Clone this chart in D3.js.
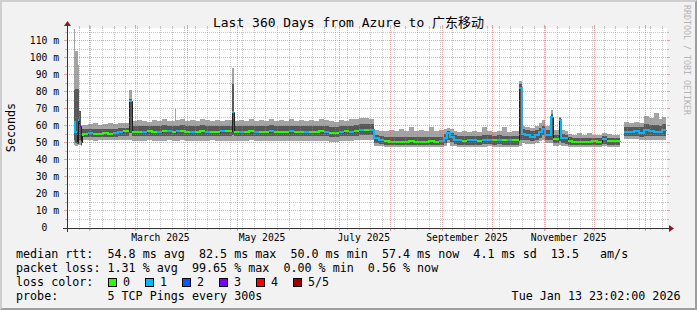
<!DOCTYPE html>
<html>
<head>
<meta charset="utf-8">
<script src="https://cdn.jsdelivr.net/npm/d3@7/dist/d3.min.js"></script>
<style>
  body { margin: 0; background: #f2f2f2; }
  text { font-family: "DejaVu Sans Mono", "Noto Sans CJK SC", monospace; white-space: pre; fill: #000; }
</style>
</head>
<body>
<svg id="chart" width="697" height="310"></svg>
<script>
// each bin runs from binStart[i] to binStart[i+1] (days after graph start), last one to dataEnd
const binStart = [4.2, 5.0, 5.7, 6.3, 7.2, 8.1, 9.0,
  9.6, 12.6, 15.6, 18.6, 21.6, 24.6, 27.6, 30.6, 33.6, 37.2, 39.2,
  42, 45, 48, 51, 54, 57, 60, 63, 64.5, 65.3, 68, 71, 74, 77, 80, 83, 86, 89, 92, 95, 98.8, 100.2,
  103, 106, 109, 112, 115, 118, 121, 124, 127, 130, 133, 136, 139, 142, 145, 148, 151, 154, 157, 160, 163, 166, 169, 172, 175, 178, 181,
  184.2, 187, 190, 193, 196, 199, 202, 205, 208, 211, 214, 217, 220, 223, 226, 228, 230, 232,
  234, 237, 240, 243, 246, 249, 252, 255, 258, 261, 264, 267, 271.2, 272.7, 275, 278, 281, 283.5, 285, 287, 290.4, 291.6, 295, 296.4, 298.5, 300.5,
  303, 306, 309, 312, 315, 318, 321, 324, 327, 330, 331.8, 334, 337, 340, 343, 346.2, 349, 352, 355, 357];
const dataEnd = 359.4;

// median rtt, ms
const median = [62.5, 56.5, 50.0, 63.5, 60.0, 50.5, 55.0,
  55.5, 55.8, 55.5, 55.5, 55.6, 55.5, 55.8, 56.5, 56.8, 75.0, 56.5,
  56.7, 56.5, 56.8, 56.6, 56.4, 56.8, 57.0, 56.6, 56.6, 56.8, 57.0, 56.5, 56.7, 56.6, 56.9, 56.5, 56.7, 56.4, 56.8, 57.0, 68.5, 56.5,
  56.7, 56.5, 56.8, 56.6, 56.7, 56.5, 56.8, 56.6, 56.4, 56.7, 56.8, 56.5, 56.7, 56.4, 56.6, 56.5, 56.8, 56.6, 55.8, 55.7, 56.6, 56.8, 56.7, 57.0, 57.5, 57.6, 57.5,
  52.8, 51.8, 51.2, 50.8, 50.8, 50.7, 50.8, 50.9, 50.8, 50.7, 50.8, 51.0, 50.8, 51.0, 53.0, 55.7, 53.5, 52.0,
  51.5, 51.4, 51.6, 51.8, 51.4, 51.9, 52.0, 51.6, 52.0, 51.8, 51.5, 51.6, 82.5, 55.5, 54.5, 53.8, 54.5, 56.5, 58.5, 55.0, 65.5, 52.5, 63.5, 53.0, 52.7, 51.0,
  50.8, 50.8, 50.7, 50.8, 50.9, 50.8, 52.3, 51.2, 51.0, 51.2, null, 56.7, 56.5, 56.8, 56.0, 57.6, 57.0, 56.2, 56.5, 57.6];

// lost pings per bin (index into lossColors)
const lossLevel = [1, 1, 2, 1, 3, 2, 0,
  0, 1, 0, 0, 0, 0, 1, 1, 0, 1, 0,
  0, 1, 0, 0, 1, 0, 1, 0, 0, 1, 0, 0, 1, 0, 0, 1, 0, 0, 1, 0, 1, 0,
  1, 0, 0, 1, 0, 0, 1, 0, 0, 0, 1, 0, 0, 1, 0, 0, 0, 1, 0, 0, 1, 0, 1, 0, 1, 0, 1,
  1, 1, 0, 0, 0, 0, 0, 0, 0, 0, 0, 0, 0, 1, 1, 1, 1, 1,
  1, 0, 1, 1, 0, 1, 1, 0, 1, 0, 1, 0, 1, 1, 1, 1, 1, 1, 1, 1, 1, 0, 1, 1, 1, 0,
  0, 0, 0, 0, 0, 0, 1, 0, 0, 0, null, 1, 1, 1, 1, 1, 1, 1, 1, 1];

// smoke: outer pair (fastest/slowest ping) and inner pair
const outerLo = [49, 48, 48, 49, 49, 48, 51,
  51.5, 51.5, 51, 51.5, 51.5, 51.5, 51.5, 52, 52, 52, 51,
  51, 51, 51.5, 51, 51, 51, 51.5, 51, 51, 51, 51.5, 51, 51, 51, 51, 51, 51.5, 51, 51, 51, 51, 51,
  51, 51, 51.5, 51, 51, 51, 51, 51, 51, 51, 51, 51, 51, 51, 51, 51, 51, 51, 50.5, 50.5, 51, 51, 51, 51.5, 52, 52, 52,
  48.5, 48, 47.5, 47.5, 47.5, 47.5, 47.5, 47.5, 47.5, 47.5, 47.5, 47.5, 47.5, 47.5, 48.5, 50, 48.5, 48,
  47.5, 47.5, 47.5, 47.5, 47.5, 47.5, 48, 47.5, 47.5, 47.5, 47.5, 47.5, 48, 50, 49.5, 49.5, 50, 51, 52, 50, 50, 48.5, 49, 48.5, 48, 47.5,
  47.5, 47.5, 47.5, 47.5, 47.5, 47.5, 48, 47.5, 47.5, 47.5, null, 52.5, 52.5, 52.5, 52, 52, 52, 52, 52, 52];
const innerLo = [52, 50, 49.5, 52, 52, 49, 53,
  53.5, 53.5, 53.5, 53.5, 53.5, 53.5, 53.5, 54, 54, 56, 54,
  54, 54, 54, 54, 54, 54, 54, 54, 54, 54, 54, 54, 54, 54, 54, 54, 54, 54, 54, 54, 55, 54,
  54, 54, 54, 54, 54, 54, 54, 54, 54, 54, 54, 54, 54, 54, 54, 54, 54, 54, 53.5, 53.5, 54, 54, 54, 54, 54.5, 54.5, 54.5,
  50, 49.5, 49, 49, 49, 49, 49, 49, 49, 49, 49, 49, 49, 49, 50, 52, 50.5, 49.5,
  49, 49, 49, 49, 49, 49.5, 49.5, 49, 49.5, 49, 49, 49, 52, 52, 51.5, 51, 51.5, 53, 54.5, 52, 52, 50, 51, 50, 49.5, 49,
  49, 49, 49, 49, 49, 49, 49.5, 49, 49, 49, null, 54, 54, 54, 53.8, 54, 54, 54, 54, 54];
const innerHi = [81, 82, 82, 82, 69, 57, 58,
  58, 58, 58.5, 58, 58, 58, 58, 59, 59, 76, 60,
  60, 60, 60, 60, 60, 60.5, 60, 60, 60, 60, 60.5, 60, 60, 60, 60.5, 60, 60, 60, 60, 60, 85, 60,
  60, 60, 60, 60, 60, 60, 60.5, 60, 60, 60, 60, 60, 60, 60, 60, 60, 60, 60, 59.5, 59.5, 60, 60, 60, 60.5, 61, 61, 61,
  55, 54, 53.5, 53.5, 53.5, 53.5, 53.5, 53.5, 53.5, 53.5, 53.5, 53.5, 53.5, 53.5, 55.5, 57, 56, 54.5,
  54, 54, 54, 54, 54, 54.5, 54.5, 54, 54.5, 54, 54, 54, 85, 58, 57.5, 57, 57.5, 59, 60, 57.5, 67, 55, 64.5, 55.5, 55, 53.5,
  53, 53, 53, 53, 53, 53, 54, 53, 53, 53, null, 59.5, 59.5, 59.5, 59.5, 61, 60.5, 60.5, 60, 61];
const outerHi = [117, 104, 104, 96, 69, 60, 60.5,
  60.5, 61, 61.5, 60.5, 61, 61.5, 61, 62, 62, 81, 63,
  63.5, 63, 62.5, 63.5, 63, 64, 63, 63, 70, 63.5, 64, 63, 63.5, 63, 64, 63.5, 63, 63.5, 63, 63.5, 94, 63,
  63.5, 63, 64, 63, 63.5, 63, 64, 63, 63.5, 63, 64, 63, 63.5, 63, 63.5, 63, 64, 63.5, 63, 62.5, 63.5, 63, 64, 64, 64.5, 64.5, 64,
  57.5, 57, 57, 57.5, 57, 58, 57, 59.5, 57, 57.5, 57, 59.5, 57, 57.5, 58, 59, 58, 57,
  56.5, 57, 56.5, 57, 56.5, 59.5, 57, 56.5, 57, 59.5, 56.5, 57, 86.5, 60, 59.5, 59, 60, 61.5, 63.5, 60, 69.4, 57.5, 65.5, 57.5, 57, 55.5,
  55, 56, 55, 56, 55, 54.5, 56, 55.5, 55, 55, null, 62.3, 62, 62.5, 62, 66, 65, 67.5, 64, 65.5];

const lossLabels = ["0", "1", "2", "3", "4", "5/5"];
const lossColors = ["#26ff00", "#00b8ff", "#0059ff", "#7e00ff", "#ff0000", "#a10000"];
const yTicks = [0, 10, 20, 30, 40, 50, 60, 70, 80, 90, 100, 110];
const yTickLabels = ["0  ", "10 m", "20 m", "30 m", "40 m", "50 m", "60 m", "70 m", "80 m", "90 m", "100 m", "110 m"];
const yMinor = [5, 15, 25, 35, 45, 55, 65, 75, 85, 95, 105, 115];
const monthLabels = ["2025-03-01", "2025-05-01", "2025-07-01", "2025-09-01", "2025-11-01"];
const rttStats = ["54.8 ms avg", "82.5 ms max", "50.0 ms min", "57.4 ms now", "4.1 ms sd", "13.5   am/s"];
const lossStats = ["1.31 % avg", "99.65 % max", "0.00 % min", "0.56 % now"];

const svg = d3.select("#chart");
const X0 = 67, X1 = 667, Y0 = 228, Y1 = 28;
const t0 = Date.UTC(2025, 0, 18, 23, 2), t1 = Date.UTC(2026, 0, 13, 23, 2);
const x = d3.scaleUtc().domain([t0, t1]).range([X0, X1]);
const y = d3.scaleLinear().domain([0, 200 / 1.7]).range([Y0, Y1]);
const atDay = d => new Date(t0 + d * 864e5);
const px = v => Math.round(v) + 0.5;

// background, 3d border, canvas
svg.append("rect").attr("width", 697).attr("height", 310).attr("fill", "#f2f2f2");
svg.append("path").attr("d", "M0,0H697L695,2H2V308L0,310Z").attr("fill", "#cfcfcf");
svg.append("path").attr("d", "M697,0V310H0L2,308H695V2Z").attr("fill", "#9e9e9e");
svg.append("rect").attr("x", X0).attr("y", Y1).attr("width", X1 - X0).attr("height", Y0 - Y1).attr("fill", "#fff");

const bins = binStart.map((s, i) => ({
  x0: Math.round(x(atDay(s))),
  x1: Math.round(x(atDay(i + 1 < binStart.length ? binStart[i + 1] : dataEnd))),
  med: median[i], loss: lossLevel[i],
  oLo: outerLo[i], iLo: innerLo[i], iHi: innerHi[i], oHi: outerHi[i]
}));
const filled = bins.filter(b => b.med != null);

// smoke
const smoke = svg.append("g").attr("shape-rendering", "crispEdges");
smoke.selectAll(".outer").data(filled).join("rect").attr("class", "outer")
  .attr("x", b => b.x0).attr("width", b => Math.max(1, b.x1 - b.x0))
  .attr("y", b => Math.round(y(b.oHi))).attr("height", b => Math.round(y(b.oLo)) - Math.round(y(b.oHi)))
  .attr("fill", "#a4a4a4");
smoke.selectAll(".inner").data(filled).join("rect").attr("class", "inner")
  .attr("x", b => b.x0).attr("width", b => Math.max(1, b.x1 - b.x0))
  .attr("y", b => Math.round(y(b.iHi))).attr("height", b => Math.round(y(b.iLo)) - Math.round(y(b.iHi)))
  .attr("fill", "#585858");

// median: thin dark line, then a thicker line per loss colour
const pts = [];
bins.forEach(b => {
  pts.push({ x: b.x0, v: b.med, loss: b.loss });
  pts.push({ x: b.x1, v: b.med, loss: b.loss });
});
svg.append("path")
  .attr("d", d3.line().defined(p => p.v != null).x(p => p.x + 0.5).y(p => px(y(p.v)))(pts))
  .attr("fill", "none").attr("stroke", "#202020").attr("stroke-width", 1);
lossColors.forEach((c, k) => {
  svg.append("path")
    .attr("d", d3.line().defined(p => p.v != null && p.loss === k).x(p => p.x).y(p => Math.round(y(p.v)))(pts))
    .attr("fill", "none").attr("stroke", c).attr("stroke-width", 2);
});

// grid on top
const gridMinor = "rgba(143,143,143,0.5)", gridMajor = "rgba(222,79,79,0.5)";
const grid = svg.append("g").attr("shape-rendering", "crispEdges");
const weeks = d3.utcSunday.range(new Date(t0), new Date(t1)).filter(d => d.getUTCDate() !== 1);
const months = d3.utcMonth.range(new Date(t0), new Date(t1));
function vline(d, color, tick) {
  const xx = px(x(d));
  grid.append("line").attr("x1", xx).attr("x2", xx).attr("y1", Y1).attr("y2", Y0)
    .attr("stroke", color).attr("stroke-dasharray", "1,1");
  grid.append("line").attr("x1", xx).attr("x2", xx).attr("y1", Y0).attr("y2", Y0 + tick).attr("stroke", color);
  grid.append("line").attr("x1", xx).attr("x2", xx).attr("y1", Y1 - tick).attr("y2", Y1).attr("stroke", color);
}
function hline(v, color, tick) {
  const yy = px(y(v)) - 1;
  grid.append("line").attr("x1", X0).attr("x2", X1).attr("y1", yy).attr("y2", yy)
    .attr("stroke", color).attr("stroke-dasharray", "1,1");
  grid.append("line").attr("x1", X0 - tick).attr("x2", X0).attr("y1", yy).attr("y2", yy).attr("stroke", color);
  grid.append("line").attr("x1", X1).attr("x2", X1 + tick).attr("y1", yy).attr("y2", yy).attr("stroke", color);
}
weeks.forEach(d => vline(d, gridMinor, 2));
months.forEach(d => vline(d, gridMajor, 3));
yMinor.forEach(v => hline(v, gridMinor, 2));
yTicks.filter(v => v > 0).forEach(v => hline(v, gridMajor, 3));

// axes + arrows
svg.append("line").attr("x1", X0 - 4).attr("x2", X1 + 4).attr("y1", Y0 + 0.5).attr("y2", Y0 + 0.5)
  .attr("stroke", "#333").attr("shape-rendering", "crispEdges");
svg.append("line").attr("x1", X0 + 0.5).attr("x2", X0 + 0.5).attr("y1", Y0 + 4).attr("y2", Y1 - 4)
  .attr("stroke", "#333").attr("shape-rendering", "crispEdges");
svg.append("path").attr("d", `M${X1 + 2},${Y0 - 3}L${X1 + 2},${Y0 + 4}L${X1 + 7},${Y0 + 0.5}Z`).attr("fill", "#801f1f");
svg.append("path").attr("d", `M${X0 - 3},${Y1 - 2}L${X0 + 4},${Y1 - 2}L${X0 + 0.5},${Y1 - 7}Z`).attr("fill", "#801f1f");

// axis labels
svg.selectAll(".ylab").data(yTicks).join("text").attr("class", "ylab")
  .attr("x", 59).attr("y", v => y(v)).attr("dy", "0.35em").attr("text-anchor", "end")
  .style("font-size", "9.7px").text((v, i) => yTickLabels[i]);
const fmtMonth = d3.utcFormat("%B %Y");
svg.selectAll(".xlab").data(monthLabels.map(s => new Date(s + "T00:00:00Z"))).join("text").attr("class", "xlab")
  .attr("x", d => x(d3.utcDay.offset(d, 15))).attr("y", 240.5).attr("text-anchor", "middle")
  .style("font-size", "9.7px").text(d => fmtMonth(d));

svg.append("text").attr("transform", "translate(15,127.5) rotate(-90)").attr("text-anchor", "middle")
  .style("font-size", "11.7px").text("Seconds");
svg.append("text").attr("x", 348.5).attr("y", 26.5).attr("text-anchor", "middle")
  .style("font-size", "13px").text("Last 360 Days from Azure to 广东移动");
svg.append("text").attr("transform", "translate(684,5) rotate(90)")
  .style("font-size", "8.3px").style("fill", "#b4b4b4").text("RRDTOOL / TOBI OETIKER");

// legend
const lg = svg.append("g").style("font-size", "11.7px");
lg.append("text").attr("x", 16).attr("y", 258.3).text("median rtt:  " + rttStats.join("  "));
lg.append("text").attr("x", 16).attr("y", 272).text("packet loss: " + lossStats.join("  "));
lg.append("text").attr("x", 16).attr("y", 286).text("loss color:");
lossLabels.forEach((l, i) => {
  lg.append("rect").attr("x", 108.5 + 37 * i).attr("y", 278.5).attr("width", 8).attr("height", 8)
    .attr("fill", lossColors[i]).attr("stroke", "#000").attr("stroke-width", 1);
  lg.append("text").attr("x", 123 + 37 * i).attr("y", 286).text(l);
});
lg.append("text").attr("x", 16).attr("y", 299.5).text("probe:       5 TCP Pings every 300s");
lg.append("text").attr("x", 680.5).attr("y", 299.5).attr("text-anchor", "end").text("Tue Jan 13 23:02:00 2026");
</script>
</body>
</html>
